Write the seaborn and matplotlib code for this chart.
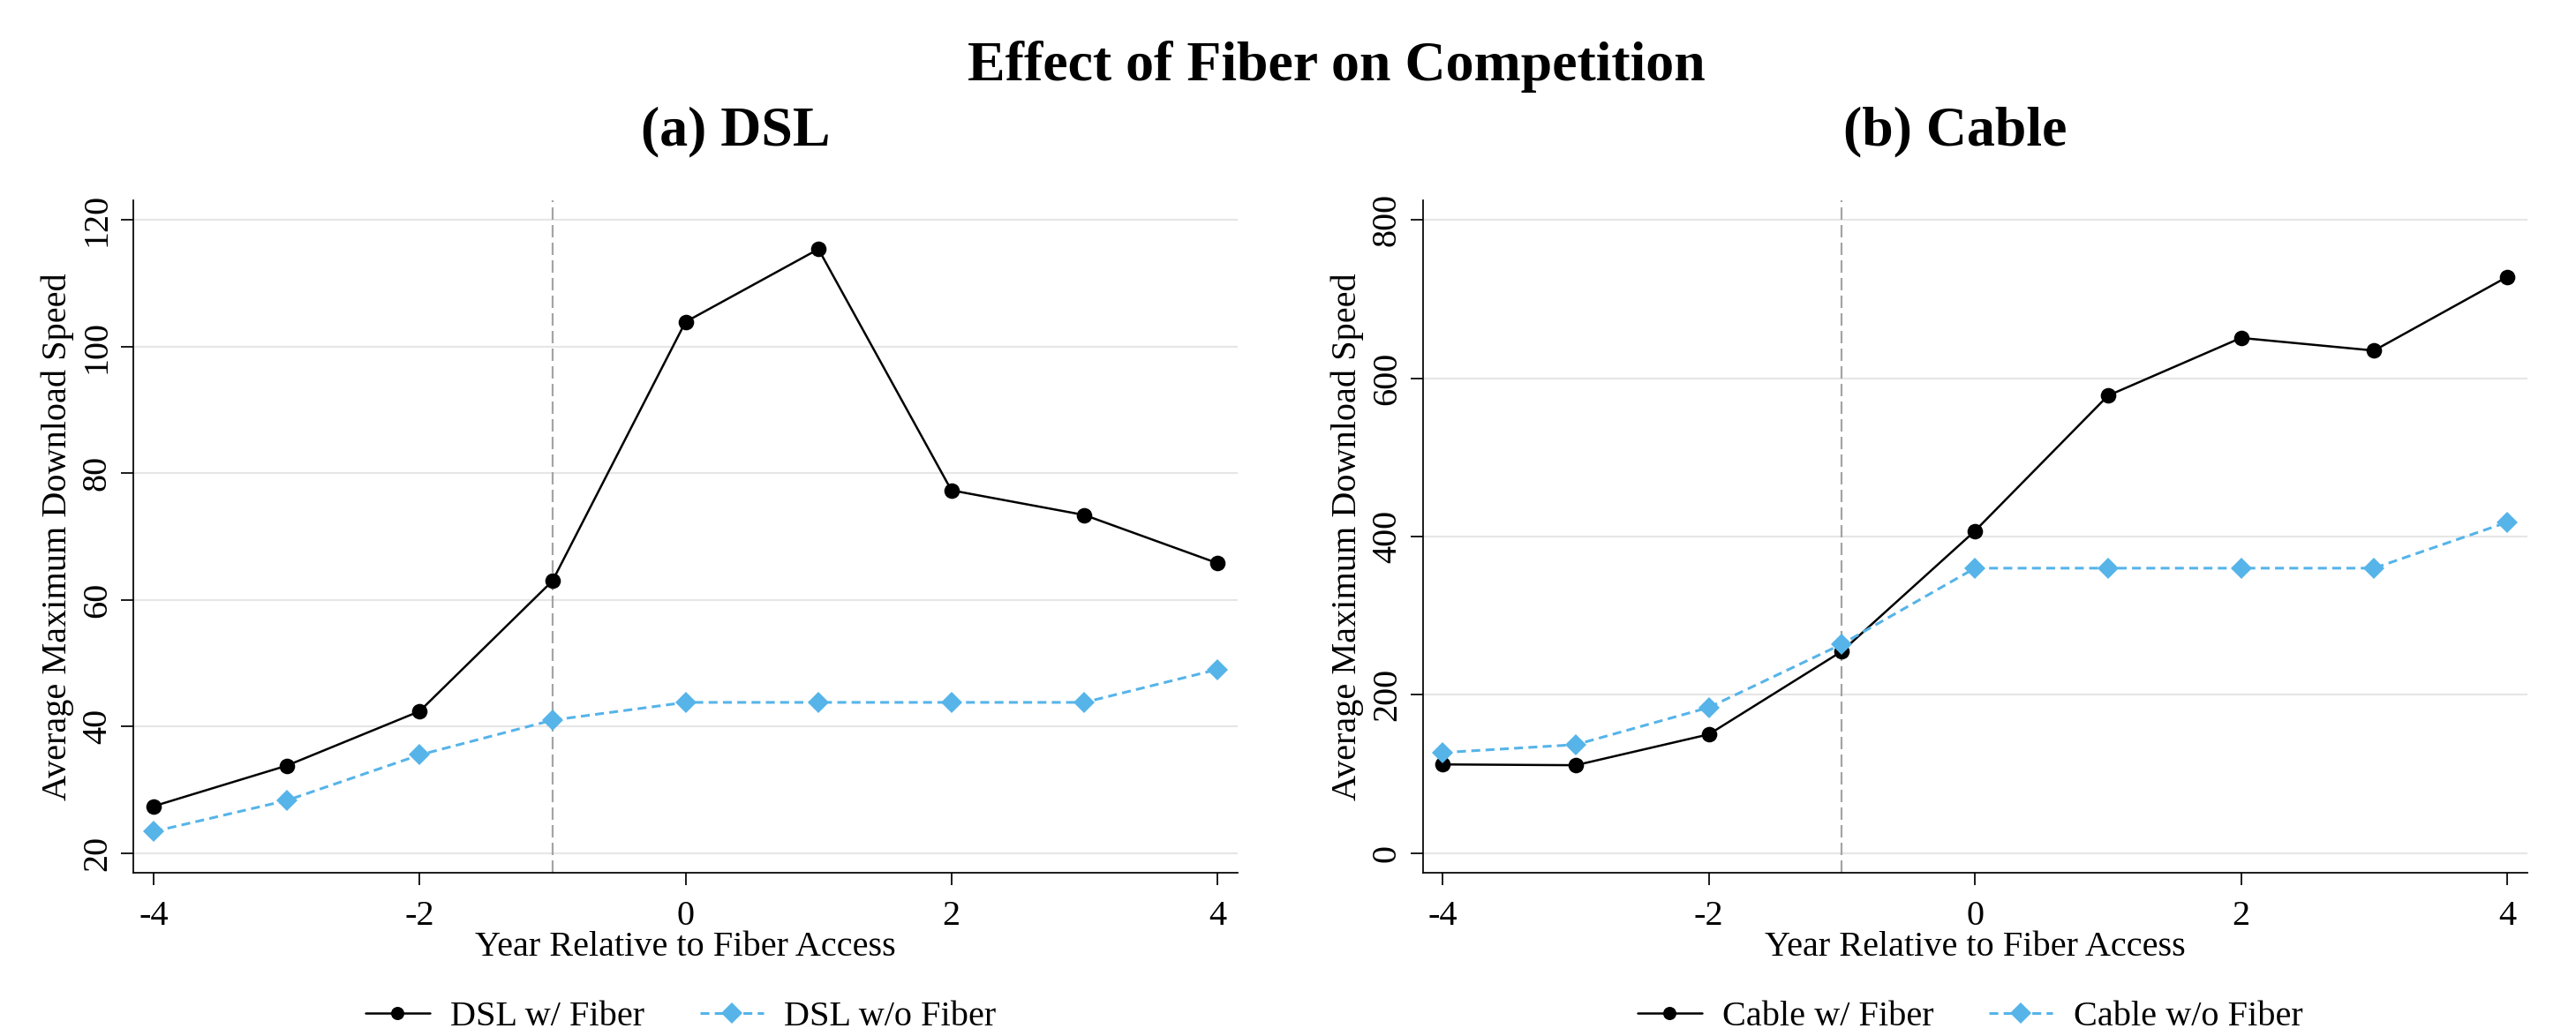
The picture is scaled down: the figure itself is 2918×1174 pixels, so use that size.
import matplotlib
matplotlib.use("Agg")
import matplotlib.pyplot as plt
import seaborn as sns
import pandas as pd
from matplotlib.lines import Line2D

# Event-time axis
years = [-4, -3, -2, -1, 0, 1, 2, 3, 4]

# Panel (a): DSL average maximum download speed
dsl_with_fiber = [27.4, 33.8, 42.4, 63.0, 103.9, 115.4, 77.3, 73.4, 65.8]
dsl_without_fiber = [23.4, 28.3, 35.5, 41.0, 43.8, 43.8, 43.8, 43.8, 49.0]

# Panel (b): Cable average maximum download speed
cable_with_fiber = [112, 111, 150, 255, 407, 578, 651, 635, 728]
cable_without_fiber = [127, 137, 184, 264, 360, 360, 360, 360, 418]

dsl_ticks = [20, 40, 60, 80, 100, 120]
cable_ticks = [0, 200, 400, 600, 800]
x_ticks = [-4, -2, 0, 2, 4]

BLUE = "#56B4E9"
BLACK = "#000000"

sns.set_theme(style="white")
plt.rcParams["font.family"] = ["Liberation Serif", "DejaVu Serif"]
for key in ["text.color", "axes.labelcolor", "xtick.color", "ytick.color"]:
    plt.rcParams[key] = BLACK

FS = 29
TITLE_FS = 46
MS = 12.7
BLUE_DASH = (0, (3.3, 2.0))

fig = plt.figure(figsize=(29.18, 11.74), dpi=100)
W, H = 2918, 1174


def make_axes(left_px, right_px, top_px=226.7, bottom_px=989):
    return fig.add_axes([left_px / W, 1 - bottom_px / H,
                         (right_px - left_px) / W, (bottom_px - top_px) / H])


ax_a = make_axes(151, 1402)
ax_b = make_axes(1612, 2863)

panels = [
    (ax_a, "DSL", dsl_with_fiber, dsl_without_fiber, dsl_ticks,
     (16.89, 123.15), (-4.153, 4.153), 771.5, 833, "(a) DSL"),
    (ax_b, "Cable", cable_with_fiber, cable_without_fiber, cable_ticks,
     (-24.9, 825.2), (-4.148, 4.153), 2232, 2215, "(b) Cable"),
]

for ax, name, with_f, without_f, yticks, ylim, xlim, legend_x, title_x, title in panels:
    df = pd.DataFrame({"year": years, "with": with_f, "without": without_f})
    ax.grid(False)
    for yt in yticks:
        ax.axhline(yt, color="#e6e6e6", lw=1.5, zorder=0)
    ax.axvline(-1, color="#a4a4a4", lw=1.6, ls=(0, (6.3, 2.7)), zorder=1)

    sns.lineplot(data=df, x="year", y="with", ax=ax, color=BLACK, lw=1.8,
                 marker="o", markersize=MS, markeredgewidth=0,
                 markerfacecolor=BLACK, zorder=3)
    sns.lineplot(data=df, x="year", y="without", ax=ax, color=BLUE, lw=2.2,
                 linestyle=BLUE_DASH, marker="D", markersize=MS,
                 markeredgewidth=0, markerfacecolor=BLUE, zorder=4)

    ax.set_xlim(*xlim)
    ax.set_ylim(*ylim)
    ax.set_xticks(x_ticks)
    ax.set_xticklabels([str(t) for t in x_ticks])
    ax.set_yticks(yticks)
    ax.set_yticklabels([str(t) for t in yticks])

    for side in ["top", "right"]:
        ax.spines[side].set_visible(False)
    for side in ["left", "bottom"]:
        ax.spines[side].set_color(BLACK)
        ax.spines[side].set_linewidth(1.25)

    ax.tick_params(axis="both", which="major", direction="out", length=10,
                   width=1.25, color=BLACK, labelsize=FS, bottom=True, left=True)
    ax.tick_params(axis="x", pad=12)
    ax.tick_params(axis="y", pad=6, labelrotation=90)
    for lab in ax.get_yticklabels():
        lab.set_va("center")

    ax.set_xlabel("Year Relative to Fiber Access", fontsize=FS, va="baseline")
    ax.set_ylabel("Average Maximum Download Speed", fontsize=FS, va="baseline")
    ax.xaxis.set_label_coords(0.5, -0.1233)
    ax.yaxis.set_label_coords(-0.0608, 0.5)

    handles = [
        Line2D([], [], color=BLACK, lw=1.8, marker="o", markersize=MS * 0.85,
               markeredgewidth=0, markerfacecolor=BLACK),
        Line2D([], [], color=BLUE, lw=2.2, linestyle=BLUE_DASH, marker="D",
               markersize=MS, markeredgewidth=0, markerfacecolor=BLUE),
    ]
    fig.legend(handles, [f"{name} w/ Fiber", f"{name} w/o Fiber"],
               loc="center", bbox_to_anchor=(legend_x / W, 1 - 1152 / H),
               bbox_transform=fig.transFigure, ncol=2, frameon=False,
               fontsize=FS, handlelength=1.79, handletextpad=0.58,
               columnspacing=1.56)

    fig.text(title_x / W, 1 - 164 / H, title, ha="center", va="baseline",
             fontsize=TITLE_FS, fontweight="bold")

fig.text(1514 / W, 1 - 91 / H, "Effect of Fiber on Competition", ha="center",
         va="baseline", fontsize=TITLE_FS, fontweight="bold")

fig.savefig("out.png", dpi=100, facecolor="white")
